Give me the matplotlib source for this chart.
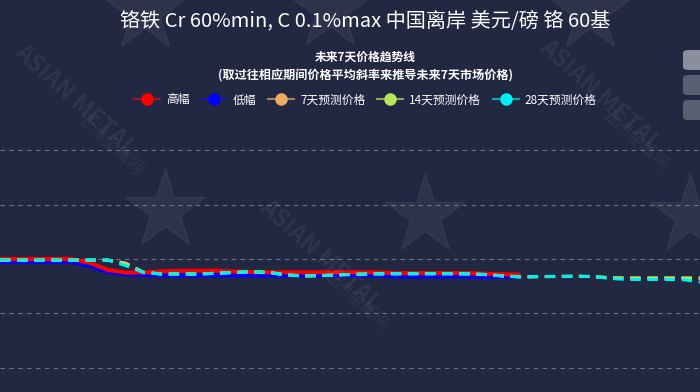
import matplotlib
matplotlib.use('Agg')
import matplotlib.pyplot as plt
from matplotlib.lines import Line2D
from matplotlib.patches import FancyBboxPatch

plt.rcParams['font.family'] = ['Noto Sans CJK SC', 'DejaVu Sans']

# 数据（按天）
days = list(range(40))
high = [1.400, 1.400, 1.400, 1.400, 1.400, 1.393, 1.380, 1.375, 1.375, 1.377,
        1.378, 1.3785, 1.3785, 1.377, 1.376, 1.3755, 1.3755, 1.3755, 1.3755, 1.3755,
        1.3755, 1.3755, 1.374, 1.374, 1.374, 1.374, 1.374, 1.373, 1.372, 1.371]
low = [1.3945, 1.3945, 1.3945, 1.3945, 1.3945, 1.387, 1.376, 1.3714, 1.3705, 1.3696,
       1.3696, 1.3696, 1.3696, 1.3696, 1.3696, 1.3696, 1.3696, 1.3696, 1.3696, 1.3696,
       1.3696, 1.3696, 1.3677, 1.3677, 1.3677, 1.3677, 1.3677, 1.3668, 1.3668, 1.3668]
pred7 = [1.398, 1.398, 1.398, 1.398, 1.398, 1.398, 1.398, 1.3926, 1.3755, 1.3724,
         1.3724, 1.3724, 1.3736, 1.3751, 1.3766, 1.3751, 1.3705, 1.3687, 1.3696, 1.3709,
         1.372, 1.3727, 1.373, 1.373, 1.373, 1.373, 1.3727, 1.3714, 1.369, 1.3672,
         1.3676, 1.3679, 1.3683, 1.3678, 1.3655, 1.365, 1.365, 1.365, 1.365, 1.365]
pred14 = [1.398, 1.398, 1.398, 1.398, 1.398, 1.398, 1.398, 1.391, 1.3753, 1.3724,
          1.3724, 1.3724, 1.3736, 1.3751, 1.3766, 1.3751, 1.3705, 1.3687, 1.3696, 1.3709,
          1.372, 1.3727, 1.3729, 1.3729, 1.3729, 1.3729, 1.3727, 1.3714, 1.3688, 1.3670,
          1.3675, 1.3678, 1.3682, 1.3677, 1.3652, 1.3648, 1.3648, 1.3648, 1.3648, 1.3645]
pred28 = [1.398, 1.398, 1.398, 1.398, 1.398, 1.398, 1.398, 1.388, 1.3751, 1.3724,
          1.3724, 1.3724, 1.3736, 1.3751, 1.3766, 1.3751, 1.3705, 1.3687, 1.3696, 1.3709,
          1.372, 1.3727, 1.3729, 1.3729, 1.3729, 1.3729, 1.3727, 1.3714, 1.3687, 1.3668,
          1.3674, 1.3677, 1.3681, 1.3676, 1.3641, 1.3622, 1.3622, 1.3622, 1.3622, 1.3576]
yticks = [1.2, 1.3, 1.4, 1.5, 1.6]

title = '铬铁 Cr 60%min, C 0.1%max 中国离岸 美元/磅 铬 60基'
sub1 = '未来7天价格趋势线'
sub2 = '(取过往相应期间价格平均斜率来推导未来7天市场价格)'
names = ['高幅', '低幅', '7天预测价格', '14天预测价格', '28天预测价格']
colors = ['#ff0000', '#0000ff', '#eeac5f', '#b3e85c', '#00f0f0']
line_cols = ['#a3121f', '#1a1aa8', '#a8825a', '#86a85a', '#14a6b0']

bg = '#232842'
W, H = 700, 392
fig = plt.figure(figsize=(7, 3.92), dpi=100, facecolor=bg)

# 背景水印
for (x, y) in [(75, 100), (320, 255), (600, 95)]:
    fig.text(x / W, 1 - y / H, 'ASIAN METAL', rotation=-42, color='#ffffff', alpha=0.06,
             fontsize=17, fontweight='bold', ha='center', va='center')
    fig.text((x + 35) / W, 1 - (y + 45) / H, '亚洲金属网', rotation=-42, color='#ffffff',
             alpha=0.06, fontsize=12, ha='center', va='center')
for (x, y) in [(165, 210), (425, 215), (690, 215), (145, 12), (330, 10), (590, 12)]:
    fig.add_artist(Line2D([x / W], [1 - y / H], transform=fig.transFigure, marker='*',
                          markersize=60, color='#ffffff', alpha=0.05, linestyle='none'))

ax = fig.add_axes([0, 0, 1, (H - 140) / H])
ax.set_facecolor('none')
ax.set_xlim(0, 39)
ax.set_ylim(1.4 - (H - 259) / 542.5, 1.4 + (259 - 140) / 542.5)
for s in ax.spines.values():
    s.set_visible(False)
ax.set_yticks(yticks)
ax.set_xticks([])
ax.tick_params(left=False, labelleft=False)
ax.yaxis.grid(True, color='#6e7285', linestyle=(0, (4, 4)), linewidth=0.8)

ax.plot(days[:len(high)], high, color=colors[0], lw=2.9, solid_capstyle='butt', zorder=3)
ax.plot(days[:len(low)], low, color=colors[1], lw=2.9, solid_capstyle='butt', zorder=2)
for vals, c in zip([pred7, pred14, pred28], colors[2:]):
    ax.plot(days, vals, color=c, lw=2.2, linestyle=(0, (3.4, 2.2)), zorder=4)

fig.text(0.522, 1 - 21 / H, title, color='white', fontsize=14.5, ha='center', va='center')
fig.text(0.522, 1 - 57 / H, sub1, color='white', fontsize=8.5, fontweight='bold',
         ha='center', va='center')
fig.text(0.522, 1 - 76 / H, sub2, color='white', fontsize=8.7, fontweight='bold',
         ha='center', va='center')

handles = [Line2D([0], [0], color=lc, lw=1.5, marker='o', markersize=8,
                  markerfacecolor=c, markeredgecolor=c)
           for c, lc in zip(colors, line_cols)]
leg = fig.legend(handles, names, loc='center', bbox_to_anchor=(0.522, 1 - 100 / H), ncol=5,
                 frameon=False, fontsize=8.5, handlelength=2.2, handletextpad=0.5,
                 columnspacing=1.0, labelcolor='white')

# 右侧按钮
for i, c in enumerate(['#8b8e9d', '#5a5e71', '#5a5e71']):
    y0 = 50 + i * 25
    fig.patches.append(FancyBboxPatch((683 / W, 1 - (y0 + 20) / H), 30 / W, 20 / H,
                                      boxstyle='round,pad=0,rounding_size=0.008',
                                      transform=fig.transFigure, facecolor=c,
                                      edgecolor='none'))

fig.savefig('out.png', dpi=100, facecolor=bg)
